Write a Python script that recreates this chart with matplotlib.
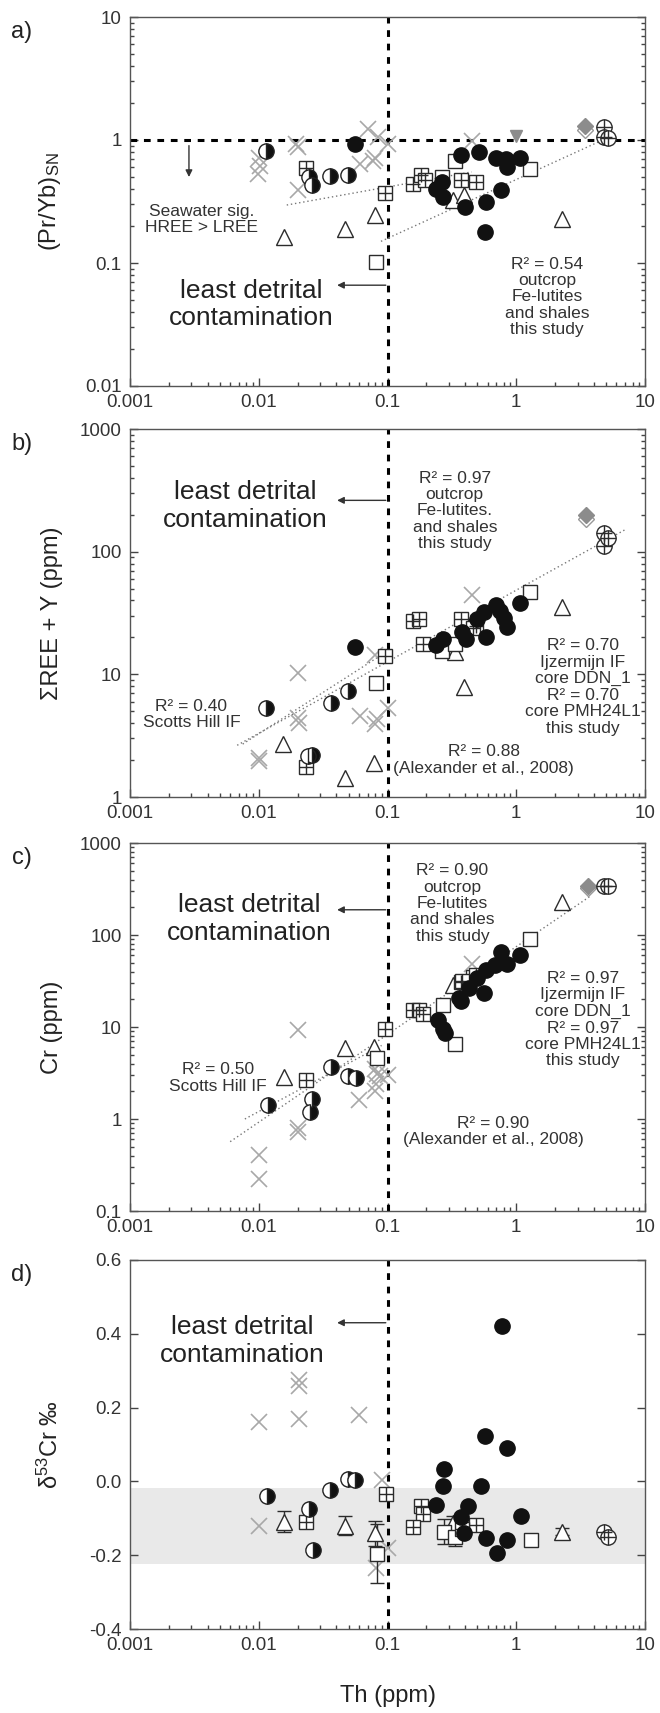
import matplotlib
matplotlib.use("Agg")
import matplotlib.pyplot as plt
from matplotlib.ticker import FixedLocator, FixedFormatter, LogLocator, NullFormatter

plt.rcParams['font.family'] = ['Liberation Sans', 'DejaVu Sans']
plt.rcParams['mathtext.default'] = 'regular'

# ---------------- DATA ----------------
TH_TICKS = [0.001, 0.01, 0.1, 1, 10]
TH_LABELS = ['0.001', '0.01', '0.1', '1', '10']

# Panel a: (Pr/Yb)SN vs Th
a_filled_x = [0.056, 0.37, 0.51, 0.69, 0.83, 1.07, 0.85, 0.24, 0.265, 0.27, 0.40, 0.585, 0.76, 0.575]
a_filled_y = [0.92, 0.76, 0.80, 0.72, 0.70, 0.72, 0.60, 0.40, 0.455, 0.345, 0.286, 0.315, 0.39, 0.177]
a_half_x = [0.0113, 0.0245, 0.026, 0.036, 0.049]
a_half_y = [0.81, 0.50, 0.43, 0.51, 0.52]
a_grid_x = [0.0231, 0.095, 0.157, 0.182, 0.196, 0.372, 0.484]
a_grid_y = [0.59, 0.37, 0.44, 0.515, 0.47, 0.47, 0.455]
a_sq_x = [0.082, 0.333, 1.29, 0.266]
a_sq_y = [0.102, 0.68, 0.58, 0.50]
a_tri_x = [0.0156, 0.047, 0.080, 2.26, 0.32, 0.395]
a_tri_y = [0.164, 0.188, 0.245, 0.23, 0.324, 0.355]
a_x_x = [0.0101, 0.0098, 0.0102, 0.0196, 0.0200, 0.020, 0.071, 0.085, 0.100, 0.061, 0.077, 0.080, 0.45]
a_x_y = [0.72, 0.53, 0.62, 0.92, 0.88, 0.39, 1.22, 1.05, 0.93, 0.64, 0.68, 0.72, 0.99]
a_dia_x = [3.45]
a_dia_y = [1.30]
a_dia2_y = [1.20]
a_tdown_x = [1.0]
a_tdown_y = [1.08]
a_pc_x = [4.8, 4.8, 5.2]
a_pc_y = [1.28, 1.05, 1.03]
a_fit1_x = [0.0165, 0.45]
a_fit1_y = [0.296, 0.55]
a_fit2_x = [0.089, 5.2]
a_fit2_y = [0.15, 1.05]

# Panel b: sum REE + Y vs Th
b_filled_x = [0.056, 0.24, 0.27, 0.38, 0.41, 0.50, 0.56, 0.58, 0.70, 0.75, 0.80, 0.85, 1.07]
b_filled_y = [16.6, 17.5, 19.5, 22.0, 19.5, 28.0, 32.0, 20.0, 37.0, 33.0, 29.0, 24.5, 38.0]
b_half_x = [0.0113, 0.0363, 0.049, 0.0259, 0.024]
b_half_y = [5.33, 5.85, 7.25, 2.19, 2.15]
b_grid_x = [0.0231, 0.095, 0.157, 0.175, 0.19, 0.372, 0.484, 0.46]
b_grid_y = [1.77, 14.2, 27.1, 28.0, 17.7, 28.0, 24.7, 24.0]
b_sq_x = [0.082, 0.266, 0.333, 1.29]
b_sq_y = [8.45, 15.6, 17.6, 47.0]
b_tri_x = [0.0153, 0.047, 0.079, 0.395, 2.26, 0.333]
b_tri_y = [2.72, 1.43, 1.88, 7.95, 35.7, 15.3]
b_x_x = [0.0101, 0.0101, 0.020, 0.020, 0.0205, 0.061, 0.080, 0.083, 0.100, 0.080, 0.45]
b_x_y = [2.06, 1.95, 10.2, 4.44, 4.0, 4.6, 3.9, 4.3, 5.3, 14.5, 44.0]
b_dia_x = [3.5]
b_dia_y = [200]
b_dia2_y = [185]
b_pc_x = [4.8, 4.8, 5.2]
b_pc_y = [143, 111, 130]
b_fit1_x = [0.0068, 7.0]
b_fit1_y = [2.64, 151]
b_fit2_x = [0.0075, 0.1]
b_fit2_y = [2.7, 15.5]

# Panel c: Cr vs Th
c_filled_x = [0.76, 1.07, 0.68, 0.85, 0.585, 0.50, 0.43, 0.56, 0.37, 0.36, 0.245, 0.27, 0.28]
c_filled_y = [65.5, 60, 47, 49, 41.6, 33.8, 26.4, 23.3, 19, 20.5, 12, 9.4, 8.7]
c_half_x = [0.0117, 0.0363, 0.049, 0.057, 0.026, 0.025]
c_half_y = [1.41, 3.64, 2.96, 2.8, 1.66, 1.19]
c_grid_x = [0.0231, 0.096, 0.157, 0.175, 0.19, 0.372, 0.484, 0.38]
c_grid_y = [2.65, 9.4, 15.4, 15.4, 14.0, 31, 36.7, 32]
c_sq_x = [0.083, 0.27, 0.333, 1.29, 0.46]
c_sq_y = [4.65, 17.5, 6.5, 91, 35]
c_tri_x = [0.0158, 0.047, 0.079, 0.32, 2.26]
c_tri_y = [2.84, 5.97, 6.1, 28.6, 226]
c_x_x = [0.020, 0.020, 0.0202, 0.0101, 0.0101, 0.060, 0.080, 0.083, 0.087, 0.082, 0.100, 0.080, 0.45]
c_x_y = [9.2, 0.79, 0.72, 0.41, 0.22, 1.6, 3.5, 3.1, 2.9, 2.4, 3.0, 2.0, 49]
c_dia_x = [3.6]
c_dia_y = [342]
c_dia2_y = [322]
c_pc_x = [4.8, 5.2]
c_pc_y = [345, 345]
c_fit1_x = [0.006, 3.8]
c_fit1_y = [0.567, 267]
c_fit2_x = [0.0078, 0.09]
c_fit2_y = [1.0, 6.3]

# Panel d: d53Cr vs Th
d_filled_x = [0.78, 0.575, 0.84, 0.275, 0.27, 0.53, 0.24, 0.42, 0.37, 1.08, 0.39, 0.58, 0.85, 0.71]
d_filled_y = [0.42, 0.124, 0.091, 0.034, -0.013, -0.013, -0.065, -0.067, -0.096, -0.093, -0.141, -0.154, -0.159, -0.193]
d_half_x = [0.049, 0.056, 0.036, 0.0115, 0.0245, 0.0264]
d_half_y = [0.007, 0.003, -0.024, -0.040, -0.074, -0.186]
d_grid_x = [0.098, 0.0231, 0.182, 0.19, 0.157, 0.484, 0.38]
d_grid_y = [-0.033, -0.111, -0.067, -0.089, -0.123, -0.117, -0.13]
d_sq_x = [0.083, 0.275, 0.333, 1.31]
d_sq_y = [-0.196, -0.136, -0.150, -0.159]
d_sq_err = [0.08, 0.035, 0.025, 0.01]
d_tri_x = [0.0158, 0.047, 0.08, 0.32, 2.26]
d_tri_y = [-0.109, -0.120, -0.141, -0.114, -0.136]
d_tri_err = [0.028, 0.025, 0.035, 0.02, 0.01]
d_x_x = [0.0101, 0.0101, 0.0205, 0.0205, 0.0205, 0.060, 0.090, 0.100, 0.082]
d_x_y = [0.161, -0.12, 0.276, 0.258, 0.169, 0.179, 0.003, -0.181, -0.235]
d_pc_x = [4.8, 5.2]
d_pc_y = [-0.136, -0.15]
d_band = [-0.225, -0.018]

# ---------------- STYLE HELPERS ----------------
INK = '#2b2b2b'
GREY_X = '#a8a8a8'
MS_C = 11
MS_S = 9.5


def draw_common(ax):
    ax.set_xscale('log')
    ax.set_xlim(0.001, 10)
    ax.xaxis.set_major_locator(FixedLocator(TH_TICKS))
    ax.xaxis.set_major_formatter(FixedFormatter(TH_LABELS))
    ax.xaxis.set_minor_locator(LogLocator(base=10, subs=range(2, 10), numticks=20))
    ax.xaxis.set_minor_formatter(NullFormatter())
    ax.tick_params(which='both', direction='in', top=False, right=True,
                   colors='#444', labelcolor='#333', labelsize=13.5, width=1)
    ax.tick_params(which='major', length=6, pad=6)
    ax.tick_params(which='minor', length=3)
    for s in ax.spines.values():
        s.set_color('#555')
        s.set_linewidth(1)
    ax.axvline(0.1, color='black', lw=2.2, dashes=(2.2, 2.2), zorder=2)


def draw_series(ax, fx, fy, hx, hy, gx, gy, sx, sy, tx, ty, xx, xy, pcx, pcy):
    ax.plot(xx, xy, ls='none', marker='x', ms=11, mew=1.2, color=GREY_X, zorder=3)
    ax.plot(tx, ty, ls='none', marker='^', ms=11, mew=1, mfc='white', mec=INK, zorder=4)
    ax.plot(sx, sy, ls='none', marker='s', ms=MS_S, mew=1, mfc='white', mec=INK, zorder=5)
    ax.plot(gx, gy, ls='none', marker='s', ms=MS_S, mew=1, mfc='white', mec=INK, zorder=5)
    ax.plot(gx, gy, ls='none', marker='+', ms=MS_S, mew=1, color=INK, zorder=5)
    ax.plot(hx, hy, ls='none', marker='o', ms=MS_C, mew=1, fillstyle='right',
            mfc='#111', mfcalt='white', mec='#222', zorder=6)
    ax.plot(fx, fy, ls='none', marker='o', ms=MS_C, mew=1, mfc='#111', mec='#111', zorder=6)
    ax.plot(pcx, pcy, ls='none', marker='o', ms=MS_C, mew=1, mfc='white', mec=INK, zorder=6)
    ax.plot(pcx, pcy, ls='none', marker='+', ms=MS_C, mew=1, color=INK, zorder=6)


def draw_diamond(ax, dx, dy, dy2):
    ax.plot(dx, dy2, ls='none', marker='D', ms=8, mew=1, mfc='white', mec='#999', zorder=5)
    ax.plot(dx, dy, ls='none', marker='D', ms=8, mew=1, mfc='#8c8c8c', mec='#8c8c8c', zorder=5)


def fit_line(ax, x, y):
    ax.plot(x, y, color='#777', lw=1, ls=(0, (1, 2)), zorder=2)


def arrow_left(ax, x0, x1, y):
    ax.annotate('', xy=(x1, y), xytext=(x0, y),
                arrowprops=dict(arrowstyle='-|>', color='#333', lw=1, mutation_scale=10,
                                shrinkA=0, shrinkB=0), zorder=3)


ANN = dict(fontsize=12.5, color='#333', ha='center', va='center', linespacing=1.12)
BIG = dict(fontsize=19, color='#222', ha='center', va='center', linespacing=1.2)

# ---------------- FIGURE ----------------
W, H = 660, 1713
fig = plt.figure(figsize=(W / 100, H / 100), dpi=100)
L, R = 130, 645
panels = [(17, 386), (429, 797), (843, 1211), (1260, 1629)]
axes = []
for top, bot in panels:
    axes.append(fig.add_axes([L / W, 1 - bot / H, (R - L) / W, (bot - top) / H]))

for (top, bot), lab in zip(panels, ['a)', 'b)', 'c)', 'd)']):
    fig.text(22 / W, 1 - (top + 15) / H, lab, fontsize=17, color='#222', ha='center', va='center')

# ---- panel a
ax = axes[0]
draw_common(ax)
ax.set_yscale('log')
ax.set_ylim(0.01, 10)
ax.yaxis.set_major_locator(FixedLocator([0.01, 0.1, 1, 10]))
ax.yaxis.set_major_formatter(FixedFormatter(['0.01', '0.1', '1', '10']))
ax.yaxis.set_minor_locator(LogLocator(base=10, subs=range(2, 10), numticks=20))
ax.yaxis.set_minor_formatter(NullFormatter())
ax.axhline(1, color='black', lw=2.2, dashes=(2.2, 2.2), zorder=2)
fit_line(ax, a_fit1_x, a_fit1_y)
fit_line(ax, a_fit2_x, a_fit2_y)
draw_series(ax, a_filled_x, a_filled_y, a_half_x, a_half_y, a_grid_x, a_grid_y,
            a_sq_x, a_sq_y, a_tri_x, a_tri_y, a_x_x, a_x_y, a_pc_x, a_pc_y)
draw_diamond(ax, a_dia_x, a_dia_y, a_dia2_y)
ax.plot(a_tdown_x, a_tdown_y, ls='none', marker='v', ms=9, mfc='#8c8c8c', mec='#8c8c8c', zorder=5)
ax.set_ylabel('(Pr/Yb)$_{SN}$', fontsize=17, color='#222')
ax.text(0.0036, 0.225, 'Seawater sig.\nHREE > LREE', **ANN)
ax.annotate('', xy=(0.00287, 0.50), xytext=(0.00287, 0.90),
            arrowprops=dict(arrowstyle='-|>', color='#333', lw=1, mutation_scale=10,
                            shrinkA=0, shrinkB=0))
ax.text(0.0087, 0.046, 'least detrital\ncontamination', **BIG)
arrow_left(ax, 0.097, 0.0406, 0.066)
ax.text(1.74, 0.053, 'R² = 0.54\noutcrop\nFe-lutites\nand shales\nthis study', **ANN)

# ---- panel b
ax = axes[1]
draw_common(ax)
ax.set_yscale('log')
ax.set_ylim(1, 1000)
ax.yaxis.set_major_locator(FixedLocator([1, 10, 100, 1000]))
ax.yaxis.set_major_formatter(FixedFormatter(['1', '10', '100', '1000']))
ax.yaxis.set_minor_locator(LogLocator(base=10, subs=range(2, 10), numticks=20))
ax.yaxis.set_minor_formatter(NullFormatter())
fit_line(ax, b_fit1_x, b_fit1_y)
fit_line(ax, b_fit2_x, b_fit2_y)
draw_series(ax, b_filled_x, b_filled_y, b_half_x, b_half_y, b_grid_x, b_grid_y,
            b_sq_x, b_sq_y, b_tri_x, b_tri_y, b_x_x, b_x_y, b_pc_x, b_pc_y)
draw_diamond(ax, b_dia_x, b_dia_y, b_dia2_y)
ax.set_ylabel('ΣREE + Y (ppm)', fontsize=17, color='#222')
ax.text(0.0078, 235, 'least detrital\ncontamination', **BIG)
arrow_left(ax, 0.097, 0.0406, 262)
ax.text(0.333, 215, 'R² = 0.97\noutcrop\nFe-lutites.\nand shales\nthis study', **ANN)
ax.text(3.3, 7.9, 'R² = 0.70\nIjzermijn IF\ncore DDN_1\nR² = 0.70\ncore PMH24L1\nthis study', **ANN)
ax.text(0.0030, 4.7, 'R² = 0.40\nScotts Hill IF', **ANN)
ax.text(0.56, 2.0, 'R² = 0.88\n(Alexander et al., 2008)', **ANN)

# ---- panel c
ax = axes[2]
draw_common(ax)
ax.set_yscale('log')
ax.set_ylim(0.1, 1000)
ax.yaxis.set_major_locator(FixedLocator([0.1, 1, 10, 100, 1000]))
ax.yaxis.set_major_formatter(FixedFormatter(['0.1', '1', '10', '100', '1000']))
ax.yaxis.set_minor_locator(LogLocator(base=10, subs=range(2, 10), numticks=20))
ax.yaxis.set_minor_formatter(NullFormatter())
fit_line(ax, c_fit1_x, c_fit1_y)
fit_line(ax, c_fit2_x, c_fit2_y)
draw_series(ax, c_filled_x, c_filled_y, c_half_x, c_half_y, c_grid_x, c_grid_y,
            c_sq_x, c_sq_y, c_tri_x, c_tri_y, c_x_x, c_x_y, c_pc_x, c_pc_y)
draw_diamond(ax, c_dia_x, c_dia_y, c_dia2_y)
ax.set_ylabel('Cr (ppm)', fontsize=17, color='#222')
ax.text(0.0084, 150, 'least detrital\ncontamination', **BIG)
arrow_left(ax, 0.097, 0.0406, 188)
ax.text(0.32, 220, 'R² = 0.90\noutcrop\nFe-lutites\nand shales\nthis study', **ANN)
ax.text(3.3, 12, 'R² = 0.97\nIjzermijn IF\ncore DDN_1\nR² = 0.97\ncore PMH24L1\nthis study', **ANN)
ax.text(0.0048, 2.8, 'R² = 0.50\nScotts Hill IF', **ANN)
ax.text(0.66, 0.73, 'R² = 0.90\n(Alexander et al., 2008)', **ANN)

# ---- panel d
ax = axes[3]
draw_common(ax)
ax.set_ylim(-0.4, 0.6)
ax.yaxis.set_major_locator(FixedLocator([-0.4, -0.2, 0.0, 0.2, 0.4, 0.6]))
ax.yaxis.set_major_formatter(FixedFormatter(['-0.4', '-0.2', '0.0', '0.2', '0.4', '0.6']))
ax.axhspan(d_band[0], d_band[1], color='#e9e9e9', lw=0, zorder=0)
ax.errorbar(d_tri_x, d_tri_y, yerr=d_tri_err, fmt='none', ecolor=INK, elinewidth=1,
            capsize=5, capthick=1, zorder=4)
ax.errorbar(d_sq_x, d_sq_y, yerr=d_sq_err, fmt='none', ecolor=INK, elinewidth=1,
            capsize=5, capthick=1, zorder=4)
draw_series(ax, d_filled_x, d_filled_y, d_half_x, d_half_y, d_grid_x, d_grid_y,
            d_sq_x, d_sq_y, d_tri_x, d_tri_y, d_x_x, d_x_y, d_pc_x, d_pc_y)
ax.set_ylabel('δ$^{53}$Cr ‰', fontsize=17, color='#222')
ax.text(0.0075, 0.38, 'least detrital\ncontamination', **BIG)
arrow_left(ax, 0.097, 0.0406, 0.43)
ax.set_xlabel('Th (ppm)', fontsize=17, color='#222', labelpad=22)

for ax in axes:
    ax.yaxis.set_label_coords(-0.13, 0.5)

fig.savefig('out.png', dpi=100)
